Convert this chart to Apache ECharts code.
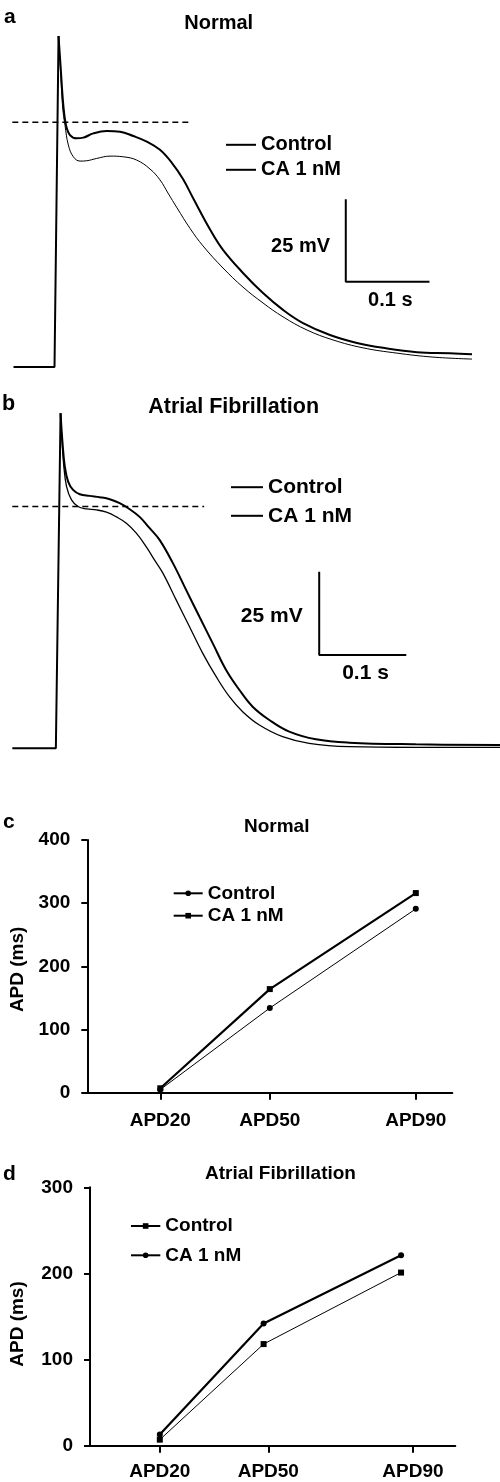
<!DOCTYPE html>
<html><head><meta charset="utf-8">
<script src="https://cdn.jsdelivr.net/npm/echarts@6.0.0/dist/echarts.min.js"></script>
<style>html,body{margin:0;padding:0;background:#fff}#c{width:500px;height:1482px}</style>
</head><body><div id="c"></div>
<script>
// ---------- Panel a (Normal): time (ms) / membrane potential (mV) ----------
const ctrlA_t = [-49, 0, 4.8, 7.4, 9.8, 12.5, 16.5, 22.5, 30.5, 38.5, 50.4, 66.3, 82.2, 98.2, 114.1, 126, 135.6, 146.4, 161.9, 177.4, 201.3, 225.2, 249.1, 273, 301.7, 332.7, 368.6, 409.2, 452.2, 498.8];
const ctrlA_v = [-80, -80, 20.3, 8.5, -1.5, -6.7, -12.7, -16.3, -17.6, -17.5, -16.8, -16.1, -16.3, -17.3, -20, -23.3, -27.3, -31.8, -38, -43.3, -50, -55.8, -60.6, -64.8, -68.8, -71.8, -74.2, -75.8, -77, -77.6];
const caA_t = [-49, 0, 4.8, 7.4, 10.5, 13.7, 18.5, 26.5, 34.4, 46.4, 62.4, 78.3, 94.1, 110.2, 126, 140.4, 153.5, 165.5, 186.2, 201.3, 225.2, 249.1, 273, 296.9, 329.1, 361.4, 392.5, 433, 472.5, 498.8];
const caA_v = [-80, -80, 20.3, 10.6, -0.6, -6.7, -9.7, -10.7, -10.5, -9.2, -8.5, -8.7, -10, -11.7, -14.2, -18.2, -23, -28.8, -38.5, -44.5, -51.5, -57.6, -62.7, -66.7, -70.3, -72.7, -74.2, -75.5, -75.8, -76.1];
const dashA_t = [-50.4, 164];
const dashA_v = [-5.8, -5.8];
const scaleA = [348, -54.2, 100, 25]; // start ms, start mV, 0.1 s, 25 mV

// ---------- Panel b (Atrial Fibrillation) ----------
const ctrlB_t = [-50, 0, 5.4, 6.5, 9.2, 12.3, 18, 25.5, 35.2, 46.6, 58.1, 69.5, 81, 92.4, 103.9, 113.4, 122.9, 138.3, 153.5, 168.7, 184.1, 199.3, 214.5, 233.7, 260.4, 290.9, 336.8, 413.2, 510];
const ctrlB_v = [-80, -80, 20.6, 14.7, 4.6, -1.4, -5.4, -7.4, -8.1, -8.4, -9.1, -10.5, -12.4, -15.4, -19.5, -23.5, -27.4, -35.5, -43.5, -51.5, -58.5, -64.5, -69, -73, -76.5, -78.5, -79.5, -79.7, -79.7];
const caB_t = [-50, 0, 5.4, 7.7, 10.3, 14.1, 19.8, 27.5, 38.9, 50.4, 61.9, 73.3, 84.8, 96.2, 107.7, 119.1, 134.4, 149.7, 164.9, 180.2, 195.5, 210.8, 226, 245.1, 268, 298.6, 336.8, 413.2, 510];
const caB_v = [-80, -80, 20.6, 11.6, 4.6, 0.1, -2.4, -3.7, -4.2, -4.6, -5.2, -6.4, -8.2, -10.5, -13.9, -17.4, -24.4, -32.5, -40.5, -48.5, -56.5, -62.5, -67.5, -71.5, -75, -77.3, -78.3, -78.8, -79];
const dashB_t = [-50, 170.3];
const dashB_v = [-7.4, -7.4];
const scaleB = [302.4, -52, 100, 25];

// ---------- Panels c, d: APD (ms) ----------
const apdLabels = ['APD20', 'APD50', 'APD90'];
const apdTicks = [20, 50, 90];
const apdPosC = [20, 50, 90];
const ctrlC = [5, 134, 291];
const caC = [7, 164, 316];
const apdPosD = [20, 48.7, 86.7];
const ctrlD = [7, 118, 201];
const caD = [13, 142, 221];

const FONT = '"Liberation Sans", Arial, Helvetica, sans-serif';
const zip = (a, b) => a.map((x, i) => [x, b[i]]);
function split(t, v) {
  const k = v.indexOf(Math.max(...v));
  return [zip(t.slice(0, k + 1), v.slice(0, k + 1)), zip(t.slice(k), v.slice(k))];
}
function scaleBar(s) {
  return [[s[0], s[1] + s[3]], [s[0], s[1]], [s[0] + s[2], s[1]]];
}
const txt = (text, x, y, size, align) => ({
  type: 'text', x: x, y: y, silent: true,
  style: { text: text, font: 'bold ' + size + 'px ' + FONT, fill: '#000', align: align || 'left', verticalAlign: 'middle' }
});

const hiddenAxis = (gi, min, max) => ({ gridIndex: gi, type: 'value', min: min, max: max, show: false, splitLine: { show: false } });

function traceSeries(gi, nameC, nameCA, cT, cV, aT, aV, dT, dV, sb, wC, wA) {
  const c = split(cT, cV), a = split(aT, aV);
  const base = { type: 'line', xAxisIndex: gi, yAxisIndex: gi, symbol: 'none', silent: true, color: '#000' };
  const sm = { smooth: 0.4 };
  return [
    Object.assign({}, base, sm, { name: nameC, data: c[1], lineStyle: { color: '#000', width: wC } }),
    Object.assign({}, base, sm, { name: nameCA, data: a[1], lineStyle: { color: '#000', width: wA } }),
    Object.assign({}, base, { name: 'upstroke' + gi, data: a[0], lineStyle: { color: '#000', width: 2 } }),
    Object.assign({}, base, { name: 'ref' + gi, data: zip(dT, dV), lineStyle: { color: '#000', width: 1.5, type: [6, 4] } }),
    Object.assign({}, base, { name: 'scale' + gi, data: scaleBar(sb), lineStyle: { color: '#000', width: 2 } })
  ];
}

const axisStyle = { color: '#000', width: 2 };
const labelStyle = { color: '#000', fontWeight: 'bold', fontSize: 19, fontFamily: FONT };
function apdX(gi, min, max, margin) {
  return {
    gridIndex: gi, type: 'value', min: min, max: max,
    axisLine: { show: true, onZero: false, lineStyle: axisStyle },
    axisTick: { show: true, length: 7, lineStyle: axisStyle, customValues: apdTicks },
    axisLabel: Object.assign({ margin: margin, customValues: apdTicks, formatter: v => apdLabels[apdTicks.indexOf(v)] }, labelStyle),
    splitLine: { show: false }
  };
}
function apdY(gi, max, gap, pad) {
  return {
    gridIndex: gi, type: 'value', min: 0, max: max, interval: 100,
    axisLine: { show: true, onZero: false, lineStyle: axisStyle },
    axisTick: { show: true, length: 6, lineStyle: axisStyle },
    axisLabel: Object.assign({ margin: 17 }, labelStyle),
    splitLine: { show: false },
    name: 'APD (ms)', nameLocation: 'middle', nameRotate: 90, nameGap: gap,
    nameTextStyle: Object.assign({ padding: [0, pad, 0, 0] }, labelStyle)
  };
}
function apdSeries(gi, name, pos, vals, symbol, width) {
  return {
    type: 'line', name: name, xAxisIndex: gi, yAxisIndex: gi, data: zip(pos, vals),
    symbol: symbol, symbolSize: 6, showSymbol: true, color: '#000',
    itemStyle: { color: '#000' }, lineStyle: { color: '#000', width: width }, silent: true
  };
}
function legend(names, left, top, w, h, gap, size) {
  return {
    data: names, orient: 'vertical', left: left, top: top, itemWidth: w, itemHeight: h, itemGap: gap,
    padding: 0, selectedMode: false, formatter: n => n.trim(),
    textStyle: { color: '#000', fontWeight: 'bold', fontSize: size, lineHeight: size, fontFamily: FONT }
  };
}

const option = {
  animation: false,
  backgroundColor: '#fff',
  grid: [
    { left: 4.3, top: 20.5, width: 468.7, height: 363 },
    { left: 3.6, top: 398.65, width: 497.6, height: 366.3 },
    { left: 87.3, top: 840, width: 365, height: 252.7 },
    { left: 87.3, top: 1187.3, width: 368, height: 258.4 }
  ],
  xAxis: [hiddenAxis(0, -60, 500), hiddenAxis(1, -60, 510), apdX(2, 0, 100, 19), apdX(3, 0.7, 101.7, 17)],
  yAxis: [hiddenAxis(0, -85, 25), hiddenAxis(1, -85, 25), apdY(2, 400, 58, 6), apdY(3, 300, 63, 15)],
  legend: [
    legend(['Control', 'CA 1 nM'], 225, 134.8, 30, 0.5, 5, 20),
    legend(['Control ', 'CA 1 nM '], 230, 476.7, 32, 0.5, 7.6, 21),
    legend(['Control  ', 'CA 1 nM  '], 172.7, 883.8, 29, 7, 3.4, 19),
    legend(['Control   ', 'CA 1 nM   '], 130, 1216.5, 29.3, 7, 10.3, 19)
  ],
  series: [].concat(
    traceSeries(0, 'Control', 'CA 1 nM', ctrlA_t, ctrlA_v, caA_t, caA_v, dashA_t, dashA_v, scaleA, 1, 2),
    traceSeries(1, 'Control ', 'CA 1 nM ', ctrlB_t, ctrlB_v, caB_t, caB_v, dashB_t, dashB_v, scaleB, 1.3, 2),
    [apdSeries(2, 'Control  ', apdPosC, ctrlC, 'circle', 1),
     apdSeries(2, 'CA 1 nM  ', apdPosC, caC, 'rect', 2.2),
     apdSeries(3, 'Control   ', apdPosD, ctrlD, 'rect', 1),
     apdSeries(3, 'CA 1 nM   ', apdPosD, caD, 'circle', 2.2)]
  ),
  graphic: [
    txt('a', 4, 17.5, 21),
    txt('Normal', 218.7, 23.8, 20, 'center'),
    txt('25 mV', 330, 246.7, 20, 'right'),
    txt('0.1 s', 390.3, 300, 20, 'center'),
    txt('b', 2, 404, 21.5),
    txt('Atrial Fibrillation', 233.7, 406.7, 21.5, 'center'),
    txt('25 mV', 302.7, 616, 21, 'right'),
    txt('0.1 s', 365.5, 673.3, 21, 'center'),
    txt('c', 3, 822.7, 21),
    txt('Normal', 276.7, 826.7, 19, 'center'),
    txt('d', 3, 1174, 21),
    txt('Atrial Fibrillation', 280.5, 1173.3, 19, 'center')
  ]
};
const chart = echarts.init(document.getElementById('c'), null, { renderer: 'canvas' });
chart.setOption(option);
</script></body></html>
